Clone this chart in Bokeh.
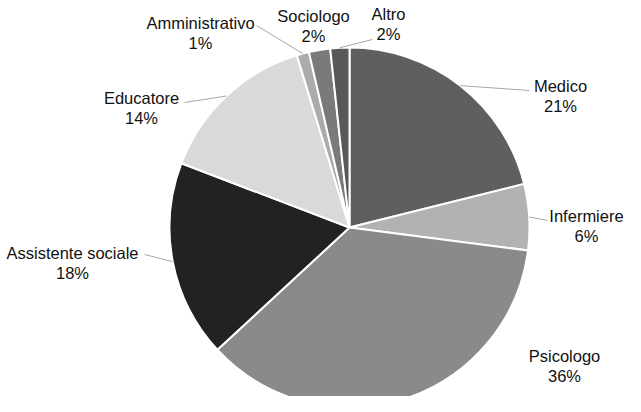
import math
from bokeh.plotting import figure
from bokeh.models import Range1d, ColumnDataSource
from bokeh.embed import file_html
from bokeh.resources import INLINE
from bokeh.core.properties import value

# ---- data ----
categories = ["Medico", "Infermiere", "Psicologo", "Assistente sociale",
              "Educatore", "Amministrativo", "Sociologo", "Altro"]
shares = [21.0, 5.9, 35.9, 17.6, 14.4, 1.1, 1.9, 1.7]
colors = ["#5f5f5f", "#b2b2b2", "#8a8a8a", "#222222",
          "#d9d9d9", "#ababab", "#7a7a7a", "#585858"]

# ---- layout (page pixels) ----
W, H = 625, 396
CX, CY, R = 357, 235, 180
label_pos = [(568, 93), (594, 223), (572, 363), (80, 260),
             (149, 105), (208, 30), (321, 23), (396, 21)]
leader_end = [(537, 98), (555, 228), None, (152, 262),
              (192, 110), (264, 33), None, (380, 47)]
LINE_GAP = 20

total = sum(shares)
starts, ends, mids = [], [], []
acc = 0.0
for v in shares:
    a0 = math.pi / 2 - acc / total * 2 * math.pi
    acc += v
    a1 = math.pi / 2 - acc / total * 2 * math.pi
    starts.append(a0)
    ends.append(a1)
    mids.append((a0 + a1) / 2)

pct = [f"{round(v / total * 100)}%" for v in shares]

p = figure(width=W, height=H, output_backend="svg", toolbar_location=None,
           x_range=Range1d(8, 8 + W), y_range=Range1d(-(8 + H), -8),
           min_border=0, x_axis_location=None, y_axis_location=None,
           outline_line_color=None)
p.grid.visible = False

src = ColumnDataSource(dict(start=starts, end=ends, color=colors))
p.wedge(x=CX, y=-CY, radius=R, start_angle="start", end_angle="end",
        direction="clock", fill_color="color", line_color="white",
        line_width=2, source=src)

# leader lines
xs0, ys0, xs1, ys1 = [], [], [], []
for m, e in zip(mids, leader_end):
    if e is None:
        continue
    xs0.append(CX + R * math.cos(m))
    ys0.append(-CY + R * math.sin(m))
    xs1.append(e[0])
    ys1.append(-e[1])
p.segment(x0=xs0, y0=ys0, x1=xs1, y1=ys1, line_color="#a6a6a6", line_width=1)

lx = [q[0] for q in label_pos]
ly1 = [-q[1] for q in label_pos]
ly2 = [-q[1] - LINE_GAP for q in label_pos]
lab = ColumnDataSource(dict(x=lx, y1=ly1, y2=ly2, name=categories, pct=pct))
for col, ycol in (("name", "y1"), ("pct", "y2")):
    p.text(x="x", y=ycol, text=col, source=lab, text_align="center",
           text_baseline="middle", text_font=value("Liberation Sans"),
           text_font_size="16.5px", text_color="#111111")

open("out.html", "w").write(file_html(p, INLINE))
